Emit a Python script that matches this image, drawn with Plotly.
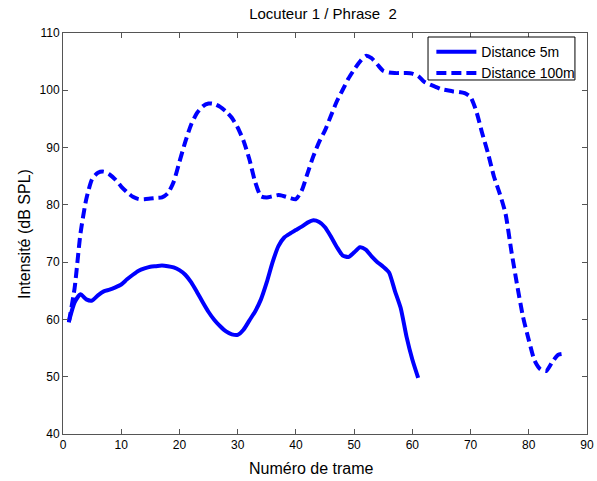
import plotly.graph_objects as go

# Intensity per frame, speaker 1 / sentence 2
frames_5m = list(range(1, 62))
intensity_5m = [
    59.6, 63.0, 64.4, 63.5, 63.3, 64.2, 64.9, 65.2, 65.6, 66.1,
    67.0, 67.8, 68.5, 68.9, 69.2, 69.3, 69.4, 69.3, 69.1, 68.6,
    67.8, 66.5, 64.8, 63.0, 61.3, 59.9, 58.8, 57.9, 57.4, 57.3,
    58.2, 59.8, 61.4, 63.5, 66.5, 70.0, 72.8, 74.3, 75.0, 75.6,
    76.2, 76.9, 77.3, 77.0, 76.1, 74.5, 72.7, 71.2, 70.9, 71.7,
    72.6, 72.2, 71.0, 70.0, 69.2, 68.2, 65.0, 62.0, 57.0, 53.0,
    49.8,
]

frames_100m = list(range(1, 87))
intensity_100m = [
    59.5, 65.5, 75.0, 81.0, 84.5, 85.6, 85.8, 85.3, 84.4, 83.2,
    82.2, 81.4, 81.0, 81.0, 81.1, 81.2, 81.3, 82.0, 84.0, 87.5,
    91.0, 94.0, 96.0, 97.2, 97.7, 97.6, 97.1, 96.3, 95.2, 93.5,
    91.2, 88.0, 84.0, 81.5, 81.3, 81.5, 81.7, 81.5, 81.2, 81.0,
    82.5, 85.5, 88.5, 91.0, 93.0, 95.5, 98.0, 100.0, 102.0, 103.6,
    105.0, 106.0, 105.6, 104.5, 103.4, 103.1, 103.0, 103.0, 103.0, 102.9,
    102.5, 101.5, 101.0, 100.6, 100.2, 100.0, 99.8, 99.7, 99.5, 98.8,
    96.3, 92.5, 89.0, 85.0, 82.0, 78.5, 72.0, 66.0, 60.5, 56.4,
    52.8, 51.3, 51.0, 52.5, 53.8, 54.0,
]

x_ticks = list(range(0, 91, 10))
y_ticks = list(range(40, 111, 10))

FONT = "Arial, Liberation Sans, sans-serif"
BLUE = "#0000ff"
BLACK = "#000000"

fig = go.Figure()
fig.add_trace(go.Scatter(
    x=frames_5m, y=intensity_5m, mode="lines", name="Distance 5m",
    line=dict(color=BLUE, width=4, shape="spline", smoothing=0.6),
))
fig.add_trace(go.Scatter(
    x=frames_100m, y=intensity_100m, mode="lines", name="Distance 100m",
    line=dict(color=BLUE, width=4, dash="10px,5px", shape="spline", smoothing=0.6),
))

axis_common = dict(
    showgrid=False, zeroline=False, automargin=False,
    showline=True, linecolor="#555555", linewidth=1, mirror="ticks",
    ticks="inside", ticklen=5, tickcolor="#555555", tickwidth=1,
    tickfont=dict(family=FONT, size=12, color=BLACK),
)

fig.update_layout(
    width=597, height=481,
    margin=dict(l=63, r=10, t=33, b=47),
    paper_bgcolor="white", plot_bgcolor="white",
    title=dict(text="Locuteur 1 / Phrase&nbsp;&nbsp;2", x=0.541, xanchor="center",
               y=0.982, yanchor="top",
               font=dict(family=FONT, size=15, color=BLACK)),
    xaxis=dict(range=[0, 90], tickvals=x_ticks, **axis_common),
    yaxis=dict(range=[40, 110], tickvals=y_ticks, **axis_common),
    # legend box drawn as a shape so its size can be set independently of the text
    shapes=[dict(type="rect", xref="paper", yref="paper",
                 x0=0.6966, x1=0.977, y0=0.8828, y1=0.990,
                 fillcolor="white", line=dict(color=BLACK, width=1),
                 layer="above")],
    legend=dict(x=0.703, y=0.992, xanchor="left", yanchor="top",
                bgcolor="rgba(0,0,0,0)", borderwidth=0,
                font=dict(family=FONT, size=14, color=BLACK),
                tracegroupgap=0, itemwidth=40),
    annotations=[
        dict(text="Numéro de trame", xref="paper", yref="paper",
             x=0.475, y=-0.087, xanchor="center", yanchor="middle",
             showarrow=False, borderpad=0,
             font=dict(family=FONT, size=16, color=BLACK)),
        dict(text="Intensité (dB SPL)", xref="paper", yref="paper",
             x=-0.0725, y=0.4988, xanchor="center", yanchor="middle",
             textangle=-90, showarrow=False,
             font=dict(family=FONT, size=16, color=BLACK)),
    ],
    showlegend=True,
)

fig.write_html("out.html")
